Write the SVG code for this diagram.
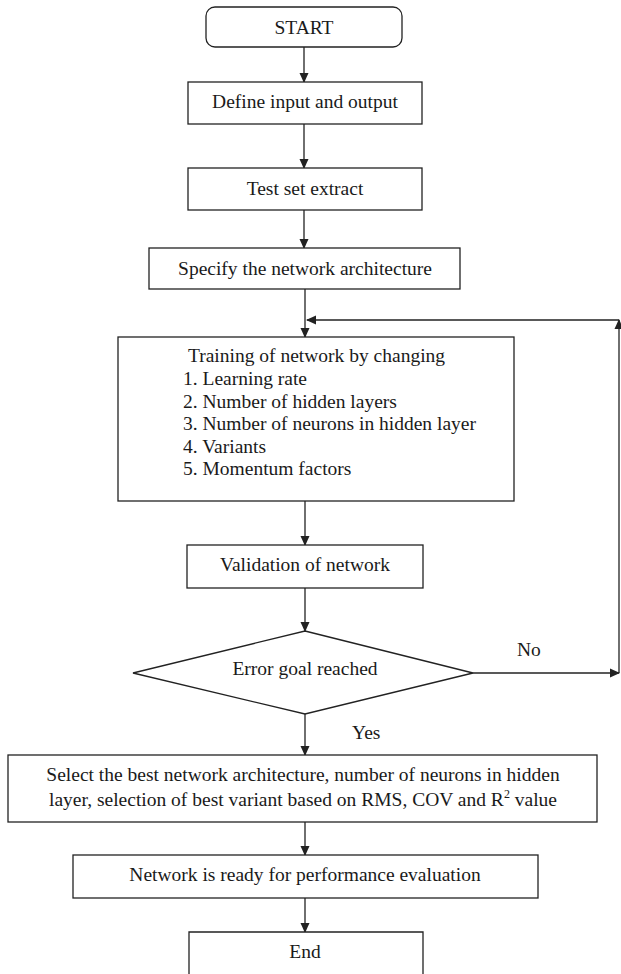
<svg xmlns="http://www.w3.org/2000/svg" width="621" height="974" viewBox="0 0 621 974">
<defs>
<marker id="ah" markerWidth="10" markerHeight="10" refX="9" refY="5" orient="auto" markerUnits="userSpaceOnUse">
<path d="M0,0.5 L10,5 L0,9.5 Z" fill="#222"/>
</marker>
<style>
.box{fill:#fff;stroke:#222;stroke-width:1.3}
.t{font-family:"Liberation Serif","Times New Roman",serif;font-size:19.5px;fill:#1a1a1a}
.c{text-anchor:middle}
.ln{fill:none;stroke:#222;stroke-width:1.3}
</style>
</defs>
<rect width="621" height="974" fill="#fff"/>
<g id="connectors">
<line class="ln" x1="304" y1="47" x2="304" y2="82" marker-end="url(#ah)"/>
<line class="ln" x1="304" y1="124" x2="304" y2="168" marker-end="url(#ah)"/>
<line class="ln" x1="304" y1="210" x2="304" y2="248" marker-end="url(#ah)"/>
<line class="ln" x1="305" y1="289" x2="305" y2="337" marker-end="url(#ah)"/>
<line class="ln" x1="305" y1="501" x2="305" y2="545" marker-end="url(#ah)"/>
<line class="ln" x1="305" y1="588" x2="305" y2="631" marker-end="url(#ah)"/>
<line class="ln" x1="473" y1="673" x2="619" y2="673" marker-end="url(#ah)"/>
<line class="ln" x1="619" y1="673" x2="619" y2="320" marker-end="url(#ah)"/>
<line class="ln" x1="619" y1="320" x2="307" y2="320" marker-end="url(#ah)"/>
<line class="ln" x1="305" y1="714" x2="305" y2="755" marker-end="url(#ah)"/>
<line class="ln" x1="305" y1="822" x2="305" y2="855" marker-end="url(#ah)"/>
<line class="ln" x1="305" y1="898" x2="305" y2="932" marker-end="url(#ah)"/>
<text class="t" x="517" y="656">No</text>
<text class="t" x="352" y="739">Yes</text>
</g>
<g id="start">
<rect class="box" x="206" y="7" width="196" height="40" rx="9"/>
<text class="t c" x="304" y="34">START</text>
</g>
<g id="define">
<rect class="box" x="188" y="82" width="234" height="42"/>
<text class="t c" x="305" y="108">Define input and output</text>
</g>
<g id="testset">
<rect class="box" x="188" y="168" width="234" height="42"/>
<text class="t c" x="305" y="195">Test set extract</text>
</g>
<g id="specify">
<rect class="box" x="149" y="248" width="311" height="41"/>
<text class="t c" x="305" y="275">Specify the network architecture</text>
</g>
<g id="training">
<rect class="box" x="118" y="337" width="396" height="164"/>
<text class="t" x="188" y="362">Training of network by changing</text>
<text class="t" x="183" y="385">1. Learning rate</text>
<text class="t" x="183" y="408">2. Number of hidden layers</text>
<text class="t" x="183" y="430">3. Number of neurons in hidden layer</text>
<text class="t" x="183" y="453">4. Variants</text>
<text class="t" x="183" y="475">5. Momentum factors</text>
</g>
<g id="validation">
<rect class="box" x="187" y="545" width="236" height="43"/>
<text class="t c" x="305" y="571">Validation of network</text>
</g>
<g id="decision">
<polygon class="box" points="305,631 473,673 305,714 133,673"/>
<text class="t c" x="305" y="675">Error goal reached</text>
</g>
<g id="select">
<rect class="box" x="8" y="755" width="589" height="67"/>
<text class="t c" x="303" y="781">Select the best network architecture, number of neurons in hidden</text>
<text class="t c" x="303" y="806">layer, selection of best variant based on RMS, COV and R<tspan font-size="12" dy="-8">2</tspan><tspan dy="8"> value</tspan></text>
</g>
<g id="ready">
<rect class="box" x="73" y="855" width="465" height="43"/>
<text class="t c" x="305" y="881">Network is ready for performance evaluation</text>
</g>
<g id="end">
<path class="box" d="M189,975 V932 H423 V975"/>
<text class="t c" x="305" y="958">End</text>
</g>
</svg>
